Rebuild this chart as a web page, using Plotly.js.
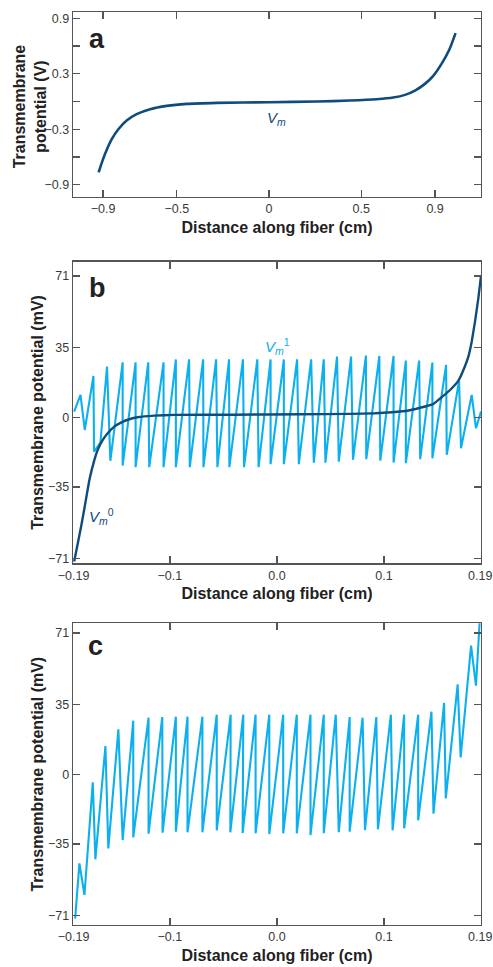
<!DOCTYPE html>
<html><head><meta charset="utf-8">
<script src="https://cdn.plot.ly/plotly-3.0.1.min.js"></script>
<style>html,body{margin:0;padding:0;background:#fff}#chart{width:493px;height:967px}</style>
</head><body><div id="chart"></div>
<script>
// ---- Panel a: Vm (V) vs distance (cm)
const aDistance = [-0.924,-0.908,-0.884,-0.853,-0.817,-0.772,-0.718,-0.645,-0.555,-0.447,-0.284,0.001,0.258,0.438,0.583,0.673,0.737,0.791,0.845,0.890,0.935,0.977,1.011];
const aVm = [-0.766,-0.669,-0.542,-0.408,-0.300,-0.206,-0.137,-0.083,-0.047,-0.025,-0.014,-0.007,0.000,0.011,0.025,0.043,0.072,0.119,0.191,0.278,0.408,0.560,0.741];
const aXTickVals = [-0.9,-0.5,0,0.5,0.9];
const aXTickText = ['−0.9','−0.5','0','0.5','0.9'];
const aYTickVals = [-0.9,-0.3,0.3,0.9];
const aYTickText = ['−0.9','−0.3','0.3','0.9'];
const aYMinorTicks = [-0.6,0,0.6];

// ---- Panel b: Vm0 (smooth) and Vm1 (sawtooth), mV
const bDistance0 = [-0.1894,-0.1860,-0.1829,-0.1798,-0.1752,-0.1705,-0.1674,-0.1627,-0.1581,-0.1519,-0.1457,-0.1379,-0.1301,-0.1146,-0.0960,-0.0401,0.0220,0.0686,0.0919,0.1075,0.1230,0.1385,0.1463,0.1540,0.1618,0.1696,0.1758,0.1789,0.1820,0.1851,0.1882,0.1907];
const bVm0 = [-72.5,-63.3,-54.9,-45.7,-31.5,-21.4,-16.4,-11.4,-8.0,-4.7,-2.7,-1.0,0.0,0.8,1.2,1.3,1.5,1.7,2.0,2.5,3.4,5.4,6.7,10.1,13.7,18.4,25.8,30.5,38.0,48.1,59.8,71.0];
const bDistance1 = [-0.1894,-0.1835,-0.1795,-0.1714,-0.1708,-0.1649,-0.1587,-0.1556,-0.1441,-0.1441,-0.1320,-0.1320,-0.1202,-0.1193,-0.1059,-0.1059,-0.0944,-0.0944,-0.0820,-0.0814,-0.0689,-0.0686,-0.0568,-0.0556,-0.0447,-0.0444,-0.0317,-0.0307,-0.0183,-0.0171,-0.0059,-0.0059,0.0065,0.0065,0.0189,0.0205,0.0320,0.0345,0.0438,0.0453,0.0562,0.0578,0.0693,0.0711,0.0832,0.0835,0.0957,0.0966,0.1090,0.1090,0.1205,0.1205,0.1329,0.1339,0.1453,0.1453,0.1581,0.1587,0.1702,0.1720,0.1820,0.1860,0.1907];
const bVm1 = [2.85,11.2,-6.4,20.8,-17.3,-12.7,25.5,-21.9,27.6,-24.3,27.6,-25.1,27.6,-25.1,27.6,-25.1,29.1,-25.1,29.1,-25.1,29.1,-25.1,29.1,-25.1,29.1,-25.1,29.1,-25.1,29.1,-25.1,29.1,-23.6,29.1,-23.6,29.1,-23.6,29.1,-22.8,29.1,-22.8,30.5,-22.3,30.5,-21.4,31.0,-21.1,30.8,-21.8,30.8,-22.8,28.5,-23.1,28.5,-21.1,27.5,-20.6,26.3,-18.9,18.4,-15.6,11.2,-5.5,2.85];

// ---- Panel c: total Vm, mV
const cDistance = [-0.1885,-0.1845,-0.1798,-0.1720,-0.1696,-0.1602,-0.1575,-0.1481,-0.1441,-0.1342,-0.1342,-0.1199,-0.1199,-0.1071,-0.1068,-0.0944,-0.0944,-0.0835,-0.0835,-0.0696,-0.0696,-0.0562,-0.0562,-0.0432,-0.0435,-0.0314,-0.0320,-0.0199,-0.0199,-0.0071,-0.0071,0.0059,0.0059,0.0186,0.0186,0.0314,0.0314,0.0438,0.0438,0.0550,0.0578,0.0680,0.0680,0.0801,0.0823,0.0929,0.0944,0.1065,0.1081,0.1189,0.1189,0.1320,0.1320,0.1444,0.1463,0.1562,0.1578,0.1689,0.1717,0.1814,0.1860,0.1898];
const cVm = [-72.5,-44.7,-60.6,-4.0,-42.7,14.2,-37.2,22.6,-33.0,27.0,-31.7,28.5,-29.8,28.8,-29.3,29.0,-28.8,29.0,-29.1,29.0,-29.1,30.0,-28.1,30.0,-29.1,30.0,-29.5,30.0,-29.6,30.0,-30.0,30.0,-29.6,30.0,-29.6,30.0,-30.5,30.0,-29.6,30.0,-29.1,28.8,-28.8,28.5,-28.0,28.8,-27.6,30.0,-28.1,30.0,-27.1,30.0,-23.1,31.5,-19.8,35.9,-12.1,45.2,8.5,64.7,44.6,80.0];

const bcXTickVals = [-0.19,-0.1,0,0.1,0.19];
const bcXTickText = ['−0.19','−0.1','0.0','0.1','0.19'];
const bcYTickVals = [-71,-35,0,35,71];
const bcYTickText = ['−71','−35','0','35','71'];

const DARK = '#0f4c7d', CYAN = '#0db0ee', AX = '#555555';
const FONT = 'Liberation Sans, Arial, sans-serif';
const tickFont = {family: FONT, size: 12.5, color: '#3a3a3a'};
const titleFont = {family: FONT, size: 16, color: '#222', weight: 'bold'};

function xax(dom, range, tv, tt, anchor) {
  return {domain: dom, range: range, anchor: anchor, tickmode: 'array', tickvals: tv, ticktext: tt,
    ticks: 'inside', ticklen: 7, tickwidth: 1.3, tickcolor: AX, showline: true, linecolor: AX, linewidth: 1.3,
    mirror: 'ticks', showgrid: false, zeroline: false, tickfont: tickFont,
    title: {text: 'Distance along fiber (cm)', font: titleFont, standoff: 6}};
}
function yax(dom, range, tv, tt, anchor, title) {
  const ax = {domain: dom, range: range, anchor: anchor, tickmode: 'array', tickvals: tv, ticktext: tt,
    ticks: 'inside', ticklen: 7, tickwidth: 1.3, tickcolor: AX, showline: true, linecolor: AX, linewidth: 1.3,
    mirror: 'ticks', showgrid: false, zeroline: false, tickfont: tickFont};
  if (title) ax.title = {text: title, font: titleFont, standoff: 0};
  return ax;
}

const data = [
  {x: aDistance, y: aVm, xaxis: 'x', yaxis: 'y', mode: 'lines', line: {color: DARK, width: 2.6, shape: 'spline', smoothing: 0.6}, hoverinfo: 'skip'},
  {x: bDistance1, y: bVm1, xaxis: 'x2', yaxis: 'y2', mode: 'lines', line: {color: CYAN, width: 2.1}, hoverinfo: 'skip'},
  {x: bDistance0, y: bVm0, xaxis: 'x2', yaxis: 'y2', mode: 'lines', line: {color: DARK, width: 2.4, shape: 'spline', smoothing: 0.3}, hoverinfo: 'skip'},
  {x: cDistance, y: cVm, xaxis: 'x3', yaxis: 'y3', mode: 'lines', line: {color: CYAN, width: 2.1}, hoverinfo: 'skip'}
];

const yA = yax([0.7977, 1], [-1.03, 0.969], aYTickVals, aYTickText, 'x', null);
yA.minor = {tickvals: aYMinorTicks, ticks: 'inside', ticklen: 7, tickwidth: 1.3, tickcolor: AX, showgrid: false};

const letterFont = {family: FONT, size: 27, color: '#222'};
const layout = {
  width: 493, height: 967, showlegend: false,
  paper_bgcolor: '#fff', plot_bgcolor: '#fff',
  margin: {l: 73, r: 12, t: 12, b: 42},
  xaxis: xax([0, 1], [-1.063, 1.149], aXTickVals, aXTickText, 'y'),
  yaxis: yA,
  xaxis2: xax([0, 1], [-0.1905, 0.1907], bcXTickVals, bcXTickText, 'y2'),
  yaxis2: yax([0.3962, 0.7265], [-73.4, 78.2], bcYTickVals, bcYTickText, 'x2', 'Transmembrane potential (mV)'),
  xaxis3: xax([0, 1], [-0.1905, 0.1907], bcXTickVals, bcXTickText, 'y3'),
  yaxis3: yax([0, 0.3304], [-75.7, 75.9], bcYTickVals, bcYTickText, 'x3', 'Transmembrane potential (mV)'),
  annotations: [
    {text: '<b>Transmembrane<br>potential (V)</b>', xref: 'x domain', yref: 'y domain', x: -0.105, y: 0.49, textangle: -90, xanchor: 'center', yanchor: 'middle', showarrow: false, font: {family: FONT, size: 16, color: '#222'}},
    {text: '<b>a</b>', xref: 'x domain', yref: 'y domain', x: 0.058, y: 0.855, xanchor: 'center', yanchor: 'middle', showarrow: false, font: letterFont},
    {text: '<b>b</b>', xref: 'x2 domain', yref: 'y2 domain', x: 0.059, y: 0.912, xanchor: 'center', yanchor: 'middle', showarrow: false, font: letterFont},
    {text: '<b>c</b>', xref: 'x3 domain', yref: 'y3 domain', x: 0.056, y: 0.926, xanchor: 'center', yanchor: 'middle', showarrow: false, font: letterFont},
    {text: '<i>V<sub>m</sub></i>', xref: 'x', yref: 'y', x: 0.041, y: -0.18, xanchor: 'center', yanchor: 'middle', showarrow: false, font: {family: FONT, size: 15, color: DARK}},
    {text: '<i>V<sub>m</sub></i><sup>1</sup>', xref: 'x2', yref: 'y2', x: 0.001, y: 35.8, xanchor: 'center', yanchor: 'middle', showarrow: false, font: {family: FONT, size: 15, color: CYAN}},
    {text: '<i>V<sub>m</sub></i><sup>0</sup>', xref: 'x2', yref: 'y2', x: -0.164, y: -49.9, xanchor: 'center', yanchor: 'middle', showarrow: false, font: {family: FONT, size: 15, color: DARK}}
  ]
};

Plotly.newPlot('chart', data, layout, {staticPlot: true, displayModeBar: false});
</script></body></html>
